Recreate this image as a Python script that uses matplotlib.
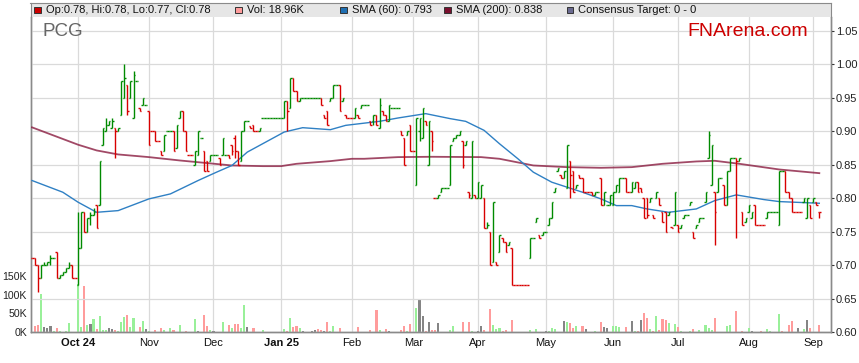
import numpy as np
import pandas as pd
import matplotlib
matplotlib.use("Agg")
import matplotlib.pyplot as plt
from matplotlib.patches import Rectangle

plt.rcParams['font.family'] = ['Liberation Sans', 'DejaVu Sans']

# ---------------------------------------------------------------------------
# Daily OHLC (one value per business day from 2024-09-10)
# ---------------------------------------------------------------------------
first_day = '2024-09-10'

opens = [
    .71, .71, .70, .68, .70, .70, .705, .71, .72, .68,
    .685, .69, .695, .70, .68, .67, .725, .78, .75, .77,
    .775, .79, .79, .88, .90, .91, .905, .905, .90, .925,
    .95, .97, .95, .92, .975, .935, .94, .94, .93, .90,
    .90, .885, .87, .87, .90, .90, .90, .875, .92, .93,
    .90, .865, .865, .85, .865, .89, .87, .855, .855, .865,
    .865, .86, .865, .865, .865, .88, .89, .87, .855, .90,
    .915, .908, .91, .90, .90, .92, .92, .92, .92, .92,
    .92, .92, .92, .945, .935, .98, .96, .945, .95, .95,
    .95, .95, .95, .95, .95, .925, .93, .945, .95, .97,
    .97, .945, .925, .92, .92, .92, .925, .935, .94, .94,
    .915, .915, .925, .905, .93, .925, .915, .935, .935, .935,
    .90, .89, .895, .91, .87, .82, .90, .89, .915, .85,
    .90, .80, .80, .81, .815, .815, .82, .885, .89, .895,
    .885, .88, .81, .80, .805, .80, .80, .80, .755, .75,
    .705, .705, .72, .74, .735, .73, .725, .67, .67, .67,
    .67, .67, .71, .74, .765, .745, .745, .75, .76, .77,
    .81, .84, .835, .83, .815, .855, .84, .815, .835, .83,
    .81, .81, .81, .805, .81, .83, .79, .79, .79, .79,
    .81, .81, .83, .83, .81, .81, .815, .825, .815, .80,
    .80, .795, .775, .80, .80, .78, .78, .775, .757, .76,
    .76, .755, .77, .775, .79, .75, .755, .765, .77, .795,
    .86, .82, .81, .81, .83, .82, .79, .84, .86, .86,
    .855, .78, .765, .78, .77, .79, .76, .76, .76, .77,
    .78, .78, .78, .76, .84, .84, .81, .80, .78, .78,
    .78, .795, .77, .79, .795, .795, .78,
]
highs = [
    .71, .71, .70, .70, .705, .705, .715, .71, .72, .685,
    .69, .695, .705, .70, .68, .78, .78, .78, .77, .78,
    .785, .79, .855, .905, .92, .915, .92, .905, .905, .975,
    1.00, .97, .975, .99, .975, .935, .95, .94, .93, .90,
    .90, .885, .87, .895, .90, .90, .90, .91, .93, .93,
    .90, .865, .865, .87, .90, .89, .87, .855, .865, .865,
    .865, .86, .89, .865, .865, .88, .895, .87, .90, .915,
    .915, .908, .91, .90, .905, .92, .92, .92, .92, .92,
    .92, .92, .945, .945, .98, .98, .96, .95, .95, .95,
    .95, .95, .95, .95, .95, .925, .93, .95, .97, .97,
    .97, .95, .925, .92, .92, .935, .925, .94, .94, .94,
    .915, .925, .925, .95, .93, .925, .94, .935, .935, .935,
    .90, .89, .90, .91, .87, .92, .92, .935, .915, .915,
    .90, .80, .805, .815, .815, .815, .88, .89, .895, .90,
    .885, .885, .81, .885, .805, .825, .82, .80, .765, .75,
    .795, .705, .745, .74, .735, .735, .725, .67, .67, .67,
    .67, .67, .74, .74, .77, .745, .75, .75, .77, .795,
    .815, .845, .835, .84, .88, .855, .84, .82, .835, .83,
    .81, .81, .81, .81, .81, .83, .81, .79, .805, .81,
    .82, .83, .83, .83, .81, .825, .825, .825, .815, .80,
    .80, .80, .775, .81, .80, .78, .78, .78, .757, .81,
    .76, .76, .775, .775, .795, .75, .76, .77, .77, .81,
    .90, .88, .81, .83, .83, .82, .84, .86, .86, .86,
    .86, .78, .77, .79, .78, .79, .76, .76, .76, .78,
    .78, .78, .78, .84, .84, .84, .81, .80, .78, .78,
    .78, .80, .80, .79, .80, .795, .78,
]
lows = [
    .71, .70, .66, .68, .70, .70, .70, .71, .68, .68,
    .685, .69, .695, .68, .68, .67, .725, .75, .75, .76,
    .775, .755, .79, .88, .90, .91, .905, .86, .90, .925,
    .95, .925, .95, .92, .975, .93, .94, .94, .88, .90,
    .885, .885, .865, .87, .90, .90, .87, .875, .92, .90,
    .87, .865, .865, .85, .865, .89, .84, .84, .855, .865,
    .865, .85, .865, .865, .86, .865, .86, .85, .855, .90,
    .915, .905, .90, .90, .90, .92, .92, .92, .92, .92,
    .92, .92, .92, .90, .935, .96, .945, .945, .95, .95,
    .95, .95, .95, .95, .94, .92, .91, .945, .95, .97,
    .93, .945, .92, .92, .92, .92, .92, .935, .94, .94,
    .91, .91, .91, .905, .925, .915, .915, .935, .935, .935,
    .895, .85, .895, .87, .87, .82, .885, .89, .91, .85,
    .87, .80, .80, .81, .815, .815, .82, .885, .89, .895,
    .845, .88, .80, .80, .80, .80, .80, .755, .755, .70,
    .705, .70, .72, .735, .72, .73, .67, .67, .67, .67,
    .67, .67, .71, .74, .765, .74, .745, .75, .76, .77,
    .81, .84, .83, .83, .815, .80, .81, .815, .83, .81,
    .81, .81, .805, .805, .81, .79, .79, .79, .79, .79,
    .81, .81, .83, .81, .81, .81, .815, .81, .81, .77,
    .77, .795, .77, .80, .79, .765, .75, .775, .755, .76,
    .75, .755, .77, .775, .79, .74, .755, .765, .77, .795,
    .86, .82, .73, .81, .83, .79, .79, .84, .86, .74,
    .855, .76, .765, .78, .77, .76, .76, .76, .76, .77,
    .78, .78, .78, .76, .84, .81, .80, .78, .78, .78,
    .78, .795, .77, .77, .795, .79, .77,
]
closes = [
    .71, .70, .68, .70, .70, .705, .71, .71, .68, .685,
    .69, .695, .70, .68, .68, .725, .78, .75, .77, .775,
    .78, .755, .855, .905, .91, .915, .915, .90, .905, .975,
    .98, .93, .975, .985, .975, .93, .95, .94, .88, .90,
    .885, .885, .865, .895, .90, .90, .87, .91, .93, .90,
    .87, .865, .865, .87, .90, .89, .84, .84, .865, .865,
    .865, .85, .89, .865, .86, .87, .87, .85, .90, .915,
    .915, .905, .90, .90, .905, .92, .92, .92, .92, .92,
    .92, .92, .945, .93, .98, .96, .945, .95, .95, .95,
    .95, .95, .95, .95, .94, .92, .91, .95, .97, .97,
    .93, .95, .92, .92, .92, .935, .92, .94, .94, .94,
    .91, .925, .91, .94, .925, .915, .94, .935, .935, .935,
    .895, .85, .90, .87, .87, .92, .92, .935, .91, .915,
    .885, .80, .805, .815, .815, .815, .88, .89, .895, .90,
    .85, .885, .805, .885, .80, .825, .82, .755, .76, .70,
    .795, .70, .745, .735, .72, .735, .67, .67, .67, .67,
    .67, .67, .74, .74, .77, .74, .75, .75, .77, .795,
    .815, .845, .83, .84, .88, .835, .81, .82, .83, .81,
    .81, .81, .805, .81, .81, .79, .81, .79, .805, .81,
    .82, .83, .83, .81, .81, .825, .825, .81, .81, .77,
    .775, .80, .77, .81, .79, .765, .75, .78, .755, .81,
    .75, .76, .775, .775, .795, .74, .76, .77, .77, .81,
    .895, .88, .78, .83, .83, .79, .84, .86, .86, .855,
    .86, .76, .77, .79, .78, .76, .76, .76, .76, .78,
    .78, .78, .78, .84, .84, .81, .80, .78, .78, .78,
    .78, .80, .80, .77, .80, .79, .78,
]

# volume (thousands), only on traded days; sign = close up / down / unchanged
vol_day = [1, 2, 3, 4, 5, 6, 7, 8, 9, 11, 12, 15, 16, 17, 18, 19, 20, 21, 22, 23,
           24, 25, 26, 27, 28, 29, 30, 31, 32, 33, 35, 36, 37, 38, 40, 42, 43, 45, 46, 48,
           50, 53, 54, 56, 57, 58, 59, 62, 64, 65, 66, 67, 68, 69, 70, 72, 75, 82, 83, 84,
           85, 86, 87, 88, 91, 92, 93, 94, 95, 96, 97, 98, 100, 106, 110, 112, 113, 115, 116, 120,
           121, 122, 123, 125, 126, 127, 128, 129, 130, 131, 132, 136, 137, 140, 142, 143, 145, 146, 147, 149,
           150, 151, 152, 153, 154, 156, 162, 164, 167, 168, 169, 170, 173, 174, 175, 176, 177, 179, 180, 183,
           185, 186, 187, 189, 190, 191, 193, 195, 196, 197, 198, 199, 200, 201, 202, 203, 204, 205, 206, 207,
           209, 210, 211, 214, 215, 217, 219, 220, 221, 222, 226, 227, 229, 231, 233, 234, 237, 239, 240, 243,
           244, 246, 247, 249, 251, 252, 253, 256]
vol_k = [16.7, 19, 102, 13, 10.5, 16, 3.5, 10.5, 4, 3.5, 24.5, 129, 14, 124, 20, 22, 35, 9, 43, 6,
         6, 10.5, 9, 6, 3.5, 27, 40, 45.6, 14, 37.7, 13, 30, 9, 2.6, 6, 10.5, 6, 10.5, 6, 18.4,
         3.5, 34, 3.5, 45.6, 16.7, 6, 3.5, 27, 19, 10.5, 22, 22, 11.4, 72, 13, 10.5, 6, 9, 3.5, 37.7,
         13, 16.7, 11.4, 3.5, 3.5, 6, 9, 6, 3.5, 27, 3.5, 16.7, 11.4, 14, 6, 59, 6, 9, 3.5, 6,
         16.7, 3.5, 22, 64, 90, 43, 3.5, 27, 6, 6, 24.5, 6, 16.7, 27, 27, 3.5, 3.5, 16.7, 6, 61,
         19, 9, 11.4, 3.5, 6, 32, 6, 9, 3.5, 3.5, 11.4, 9, 30, 27, 24.5, 11.4, 16.7, 16.7, 9, 3.5,
         27, 14, 11.4, 16.7, 16.7, 14, 14, 30, 3.5, 3.5, 32, 51, 37.7, 9, 3.5, 43, 6, 35, 32, 24.5,
         22, 14, 3.5, 3.5, 9, 6, 19, 11.4, 6, 37.7, 16.7, 19, 56, 3.5, 11.4, 3.5, 3.5, 9, 3.5, 48,
         3.5, 19, 30, 11.4, 9, 32, 11.4, 18.96]
vol_sign = [-1, -1, 1, 0, 0, 0, 1, -1, 1, 1, 1, 1, 1, -1, 1, 0, 1, -1, 1, 1,
            1, 0, 0, -1, 1, 1, 1, -1, 1, 1, -1, 1, 0, 1, -1, -1, 1, 1, -1, 1,
            -1, 1, 0, -1, -1, 1, 0, 1, -1, 1, -1, -1, 1, 1, 0, -1, 1, 1, -1, 1,
            -1, -1, 1, 0, 0, 0, -1, -1, 0, -1, 1, 1, -1, -1, -1, -1, 1, -1, 0, -1,
            -1, 1, -1, 1, 0, 0, -1, 0, -1, -1, 0, 1, 1, -1, -1, 1, 0, 0, -1, -1,
            1, 1, 1, -1, -1, -1, 1, 1, 0, 1, 1, 1, 0, 1, -1, -1, 1, -1, 0, 1,
            -1, 0, 0, 1, 1, 1, -1, 0, 1, -1, 0, -1, -1, 1, -1, 1, -1, -1, -1, 1,
            1, -1, 1, 1, -1, 1, 1, 1, 1, -1, 1, 1, -1, -1, 1, 0, -1, 1, 1, 1,
            -1, -1, -1, 0, 1, 0, -1, -1]

# moving averages
sma60_day = [0, 10, 15, 21, 28, 38, 45, 54, 60, 65, 70, 75, 82, 88, 97, 102, 113, 119, 128, 136,
             141, 147, 152, 158, 163, 169, 174, 179, 185, 190, 195, 200, 207, 216, 222, 229, 238, 243, 256]
sma60_val = [.8265, .809, .794, .779, .7815, .799, .8065, .8265, .839, .849, .869, .8815, .899, .9055,
             .9025, .909, .915, .92, .9265, .919, .915, .9015, .8815, .859, .839, .824, .8165, .809,
             .799, .789, .789, .784, .779, .784, .7965, .805, .798, .795, .7925]
sma200_day = [0, 15, 21, 28, 38, 48, 56, 65, 75, 81, 86, 97, 104, 108, 119, 130, 146, 152, 163, 174,
              185, 195, 205, 216, 222, 230, 243, 256]
sma200_val = [.906, .88, .8715, .8655, .8615, .8565, .853, .849, .848, .848, .8515, .8555, .859, .859,
              .8615, .862, .8615, .859, .849, .8465, .8455, .8465, .8515, .855, .856, .8515, .843, .8375]

price_ticks = [0.60, 0.65, 0.70, 0.75, 0.80, 0.85, 0.90, 0.95, 1.00, 1.05]
vol_ticks = [0, 50, 100, 150]

# ---------------------------------------------------------------------------
W, H = 859, 363
fig = plt.figure(figsize=(W / 100, H / 100), dpi=100)
fig.patch.set_facecolor('white')

L, R, T, B = 30.5, 831, 17, 332
axv = fig.add_axes([L / W, 1 - B / H, (R - L) / W, (B - T) / H])
ax = axv.twinx()

n = len(closes)
x = np.arange(n)
dates = pd.bdate_range(first_day, periods=n)
month_idx = [i for i in range(1, n) if dates[i].month != dates[i - 1].month]
month_lab = []
for k, i in enumerate(month_idx):
    d = dates[i]
    month_lab.append(d.strftime('%b %y') if (k == 0 or d.month == 1) else d.strftime('%b'))

GREEN, RED = '#008a00', '#d80000'
cols = []
prev = RED
for o, c in zip(opens, closes):
    if c > o:
        prev = GREEN
    elif c < o:
        prev = RED
    cols.append(prev)

# volume on its own axis (left labels)
vcol = {1: '#99f099', -1: '#ff9c9c', 0: '#858585'}
axv.bar(vol_day, vol_k, width=0.68, color=[vcol[s] for s in vol_sign], zorder=2)
axv.set_ylim(0, 850)
axv.set_yticks(vol_ticks)
axv.set_yticklabels([f'{v}K' for v in vol_ticks])
axv.tick_params(axis='y', length=0, pad=2.5, labelsize=7.6, labelcolor='#222')
axv.set_xlim(-0.5, 259.8)
axv.set_xticks(month_idx)
axv.set_xticklabels(month_lab)
for lab, txt in zip(axv.get_xticklabels(), month_lab):
    if ' ' in txt:
        lab.set_fontweight('bold')
axv.tick_params(axis='x', length=0, pad=4, labelsize=8, labelcolor='#111')
axv.grid(axis='x', color='#dadada', lw=0.9, zorder=0)
axv.set_axisbelow(True)

# price axis (right labels)
ax.set_ylim(0.60, 1.071)
ax.set_yticks(price_ticks)
ax.set_yticklabels([f'{p:.2f}' for p in price_ticks])
ax.tick_params(axis='y', direction='out', length=2.5, width=0.8, color='#333',
               pad=1, labelsize=8, labelcolor='#222')
ax.grid(axis='y', color='#dadada', lw=0.9)
ax.set_axisbelow(True)

ax.plot(sma200_day, sma200_val, color='#8a1c40', lw=1.3, alpha=0.8, zorder=3)
ax.plot(sma60_day, sma60_val, color='#2f80c4', lw=1.0, zorder=3)

ax.vlines(x, lows, highs, colors=cols, lw=1.0, zorder=4)
ax.hlines(opens, x - 0.5, x, colors=cols, lw=1.0, zorder=4)
ax.hlines(closes, x, x + 0.5, colors=cols, lw=1.0, zorder=4)

for a in (ax, axv):
    a.spines['top'].set_visible(False)
    for s in ('left', 'right', 'bottom'):
        a.spines[s].set_color('#8a8a8a')
        a.spines[s].set_linewidth(1.0)

# legend band
band = fig.add_axes([L / W, 1 - T / H, (R - L) / W, 14 / H])
band.set_xlim(L, R)
band.set_ylim(T, 3)
band.set_facecolor('#e6e6e6')
band.set_xticks([])
band.set_yticks([])
band.spines['bottom'].set_visible(False)
for s in ('top', 'left', 'right'):
    band.spines[s].set_color('#8a8a8a')

legend_items = [
    (34.5, '#cc0000', 'Op:0.78, Hi:0.78, Lo:0.77, Cl:0.78'),
    (235.5, '#ff9c9c', 'Vol: 18.96K'),
    (340.5, '#1f6fb2', 'SMA (60): 0.793'),
    (444.5, '#7a0f2e', 'SMA (200): 0.838'),
    (567, '#6a6a90', 'Consensus Target: 0 - 0'),
]
for xs, fc, txt in legend_items:
    band.add_patch(Rectangle((xs, 6.5), 6.2, 6.2, facecolor=fc, edgecolor='#333', lw=0.7))
    band.text(xs + 11.5, 10, txt, fontsize=8, color='#111', va='center', ha='left')

fig.text(42 / W, 1 - 32 / H, 'PCG', fontsize=13.5, color='#666666', va='center', ha='left')
fig.text(808 / W, 1 - 32 / H, 'FNArena.com', fontsize=14, color='#cc0000', va='center', ha='right')

fig.savefig('out.png', dpi=100)
